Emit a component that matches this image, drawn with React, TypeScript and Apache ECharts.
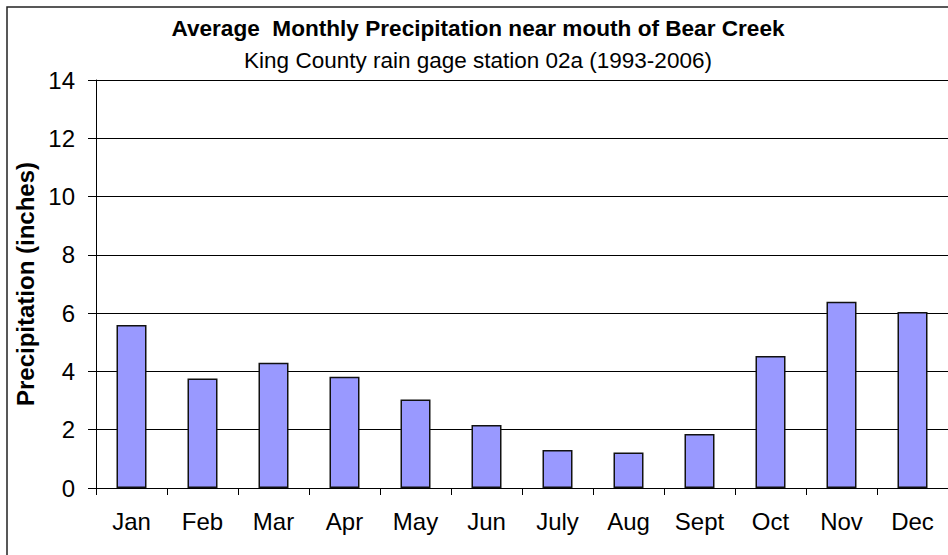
import React, { useEffect, useRef } from "react";
import * as echarts from "echarts";

const months = ["Jan", "Feb", "Mar", "Apr", "May", "Jun", "July", "Aug", "Sept", "Oct", "Nov", "Dec"];
const precipitation = [5.59, 3.76, 4.3, 3.82, 3.04, 2.16, 1.3, 1.22, 1.85, 4.53, 6.39, 6.04];
const titleText = "Average  Monthly Precipitation near mouth of Bear Creek";
const subtitleText = "King County rain gage station 02a (1993-2006)";
const yAxisName = "Precipitation (inches)";

const FONT = "'Liberation Sans', Arial, Helvetica, sans-serif";

export default function App() {
  const ref = useRef<HTMLDivElement>(null);
  useEffect(() => {
    if (!ref.current) return;
    const chart = echarts.init(ref.current, null, { renderer: "svg" });
    chart.setOption({
      animation: false,
      backgroundColor: "#ffffff",
      textStyle: { fontFamily: FONT },
      title: {
        text: titleText,
        subtext: subtitleText,
        left: 473,
        textAlign: "center",
        top: 12,
        itemGap: 9,
        textStyle: { fontFamily: FONT, fontSize: 22.6, fontWeight: "bold", color: "#000" },
        subtextStyle: { fontFamily: FONT, fontSize: 22.5, fontWeight: "normal", color: "#000" },
      },
      graphic: [
        {
          type: "rect",
          shape: { x: 7, y: 7, width: 1200, height: 1200 },
          style: { fill: "none", stroke: "#222", lineWidth: 1.5 },
          silent: true,
          z: 10,
        },
      ],
      grid: { left: 96, top: 80, width: 862, height: 408, containLabel: false },
      xAxis: {
        type: "category",
        data: months,
        boundaryGap: true,
        axisLine: { show: true, lineStyle: { color: "#000", width: 1 } },
        axisTick: { show: true, alignWithLabel: false, length: 7, lineStyle: { color: "#000" } },
        axisLabel: { fontFamily: FONT, fontSize: 24, color: "#000", margin: 21, interval: 0 },
        splitLine: { show: false },
      },
      yAxis: {
        type: "value",
        min: 0,
        max: 14,
        interval: 2,
        name: yAxisName,
        nameLocation: "middle",
        nameGap: 49,
        nameTextStyle: { fontFamily: FONT, fontSize: 24, fontWeight: "bold", color: "#000" },
        axisLine: { show: true, lineStyle: { color: "#000", width: 1 } },
        axisTick: { show: true, inside: false, length: 8, lineStyle: { color: "#000" } },
        axisLabel: { fontFamily: FONT, fontSize: 24, color: "#000", margin: 21 },
        splitLine: { show: true, lineStyle: { color: "#000", width: 1 } },
      },
      series: [
        {
          type: "bar",
          data: precipitation,
          barWidth: 30,
          itemStyle: { color: "#9999FF", borderColor: "#111", borderWidth: 1.5 },
        },
      ],
    });
    return () => chart.dispose();
  }, []);
  return <div ref={ref} style={{ width: 948, height: 555, position: "absolute", left: 0, top: 0 }} />;
}
